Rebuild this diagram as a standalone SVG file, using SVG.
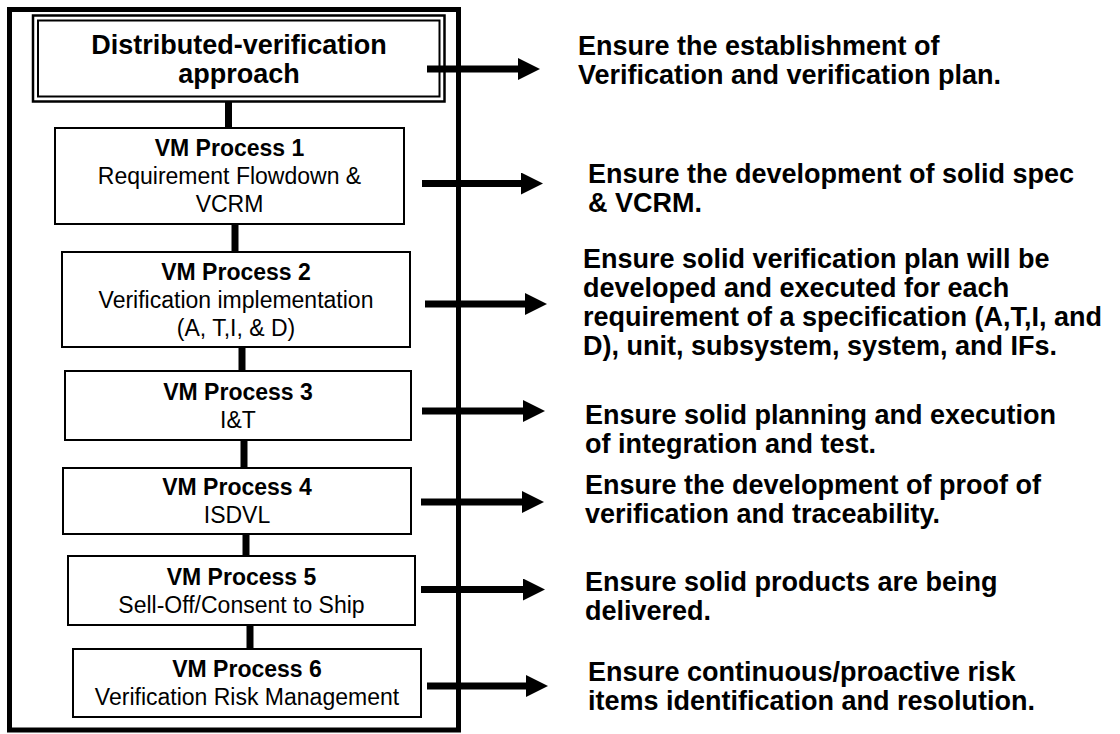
<svg xmlns="http://www.w3.org/2000/svg" width="1120" height="734" viewBox="0 0 1120 734">
  <style>
    .frame { fill: none; stroke: #000; stroke-width: 5; }
    .box { fill: #fff; stroke: #000; stroke-width: 2; }
    .link { stroke: #000; stroke-width: 7; }
    .arrow { stroke: #000; stroke-width: 7; marker-end: url(#head); }
    .title { font-family: "Liberation Sans", Arial, sans-serif; font-size: 27px; font-weight: bold; text-anchor: middle; fill: #000; }
    .pname { font-family: "Liberation Sans", Arial, sans-serif; font-size: 23px; font-weight: bold; text-anchor: middle; fill: #000; }
    .pdesc { font-family: "Liberation Sans", Arial, sans-serif; font-size: 23px; text-anchor: middle; fill: #000; }
    .goal { font-family: "Liberation Sans", Arial, sans-serif; font-size: 27px; font-weight: bold; fill: #000; }
  </style>
  <defs>
    <marker id="head" viewBox="0 0 22 22" markerWidth="22" markerHeight="22" refX="0" refY="11" orient="auto" markerUnits="userSpaceOnUse">
      <path d="M0,0 L22,11 L0,22 z" fill="#000"/>
    </marker>
  </defs>

  <rect width="1120" height="734" fill="#fff"/>

  <!-- outer frame around the process stack -->
  <rect id="frame" class="frame" x="9.5" y="9.5" width="449" height="720.5"/>

  <!-- vertical links between stacked processes -->
  <g id="connectors">
    <line class="link" x1="228.5" y1="101" x2="228.5" y2="129"/>
    <line class="link" x1="235" y1="223" x2="235" y2="253"/>
    <line class="link" x1="242" y1="346" x2="242" y2="372"/>
    <line class="link" x1="244" y1="439" x2="244" y2="469"/>
    <line class="link" x1="246" y1="533" x2="246" y2="557"/>
    <line class="link" x1="250" y1="624" x2="250" y2="650"/>
  </g>

  <g id="approach">
    <rect x="33" y="15.5" width="411.5" height="86" fill="#fff" stroke="#000" stroke-width="2.5"/>
    <rect x="38" y="20.5" width="401.5" height="76" fill="none" stroke="#000" stroke-width="2"/>
    <text class="title" x="239" y="54">Distributed-verification</text>
    <text class="title" x="239" y="83">approach</text>
  </g>

  <g id="vm1">
    <rect class="box" x="55" y="128" width="349" height="96"/>
    <text class="pname" x="229.5" y="156">VM Process 1</text>
    <text class="pdesc" x="229.5" y="184">Requirement Flowdown &amp;</text>
    <text class="pdesc" x="229.5" y="212">VCRM</text>
  </g>

  <g id="vm2">
    <rect class="box" x="62" y="252" width="348" height="95"/>
    <text class="pname" x="236" y="280">VM Process 2</text>
    <text class="pdesc" x="236" y="308">Verification implementation</text>
    <text class="pdesc" x="236" y="336">(A, T,I, &amp; D)</text>
  </g>

  <g id="vm3">
    <rect class="box" x="65" y="371" width="346" height="69"/>
    <text class="pname" x="238" y="400">VM Process 3</text>
    <text class="pdesc" x="238" y="428">I&amp;T</text>
  </g>

  <g id="vm4">
    <rect class="box" x="63" y="468" width="348" height="66"/>
    <text class="pname" x="237" y="495">VM Process 4</text>
    <text class="pdesc" x="237" y="523">ISDVL</text>
  </g>

  <g id="vm5">
    <rect class="box" x="68" y="556" width="347" height="69"/>
    <text class="pname" x="241.5" y="585">VM Process 5</text>
    <text class="pdesc" x="241.5" y="613">Sell-Off/Consent to Ship</text>
  </g>

  <g id="vm6">
    <rect class="box" x="73" y="649" width="348" height="68"/>
    <text class="pname" x="247" y="677">VM Process 6</text>
    <text class="pdesc" x="247" y="705">Verification Risk Management</text>
  </g>

  <!-- outputs: each process points to what it ensures -->
  <g id="outputs">
    <line class="arrow" x1="427" y1="69" x2="518" y2="69"/>
    <line class="arrow" x1="422" y1="183.5" x2="521" y2="183.5"/>
    <line class="arrow" x1="425" y1="304" x2="525" y2="304"/>
    <line class="arrow" x1="422" y1="411" x2="523" y2="411"/>
    <line class="arrow" x1="421" y1="502" x2="522" y2="502"/>
    <line class="arrow" x1="421" y1="589.5" x2="523" y2="589.5"/>
    <line class="arrow" x1="427" y1="686" x2="526" y2="686"/>
  </g>

  <g id="goal-approach">
    <text class="goal" x="578" y="55">Ensure the establishment of</text>
    <text class="goal" x="578" y="84">Verification and verification plan.</text>
  </g>
  <g id="goal-vm1">
    <text class="goal" x="588" y="183">Ensure the development of solid spec</text>
    <text class="goal" x="588" y="212">&amp; VCRM.</text>
  </g>
  <g id="goal-vm2">
    <text class="goal" x="583" y="268">Ensure solid verification plan will be</text>
    <text class="goal" x="583" y="297">developed and executed for each</text>
    <text class="goal" x="583" y="326">requirement of a specification (A,T,I, and</text>
    <text class="goal" x="583" y="355">D), unit, subsystem, system, and IFs.</text>
  </g>
  <g id="goal-vm3">
    <text class="goal" x="585" y="424">Ensure solid planning and execution</text>
    <text class="goal" x="585" y="453">of integration and test.</text>
  </g>
  <g id="goal-vm4">
    <text class="goal" x="585" y="494">Ensure the development of proof of</text>
    <text class="goal" x="585" y="523">verification and traceability.</text>
  </g>
  <g id="goal-vm5">
    <text class="goal" x="585" y="591">Ensure solid products are being</text>
    <text class="goal" x="585" y="620">delivered.</text>
  </g>
  <g id="goal-vm6">
    <text class="goal" x="588" y="681">Ensure continuous/proactive risk</text>
    <text class="goal" x="588" y="710">items identification and resolution.</text>
  </g>
</svg>
